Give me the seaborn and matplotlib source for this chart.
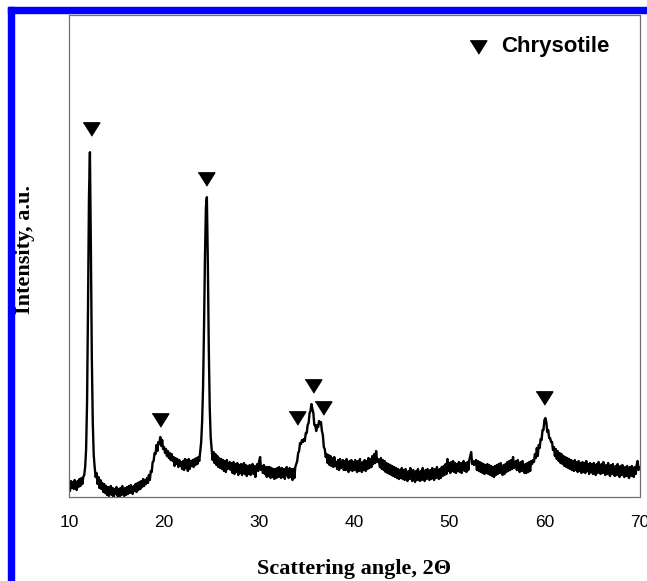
import numpy as np
import matplotlib
matplotlib.use("Agg")
import matplotlib.pyplot as plt
from matplotlib.patches import Rectangle
from matplotlib.ticker import MultipleLocator
import seaborn as sns

# ---- data ----
angle_start = 10.0      # 2-theta of first sample
angle_step = 0.1        # 2-theta step between samples
intensity = [
    14, 6, 16, 9, 15, 8, 17, 11, 7, 16,             # 10
    10, 18, 11, 19, 13, 20, 22, 30, 48, 95,         # 11
    190, 300, 345, 250, 140, 75, 42, 30, 20, 24,    # 12
    13, 20, 9, 17, 8, 14, 5, 13, 4, 11,             # 13
    2, 10, 1, 8, 11, 2, 9, 0, 8, 3,                 # 14
    10, 1, 8, 0, 9, 2, 11, 3, 1, 9,                 # 15
    2, 10, 3, 11, 4, 12, 5, 3, 11, 6,               # 16
    13, 5, 14, 7, 15, 8, 16, 10, 18, 11,            # 17
    17, 13, 19, 14, 22, 17, 26, 25, 35, 36,         # 18
    44, 43, 52, 46, 55, 53, 60, 51, 57, 48,         # 19
    50, 44, 48, 41, 46, 39, 44, 37, 43, 36,         # 20
    40, 31, 39, 33, 38, 30, 37, 31, 35, 28,         # 21
    36, 27, 38, 29, 37, 26, 38, 28, 36, 31,         # 22
    37, 30, 38, 32, 39, 33, 40, 36, 46, 55,         # 23
    75, 110, 170, 240, 290, 300, 235, 150, 90, 60,  # 24
    48, 37, 45, 34, 43, 32, 41, 30, 39, 29,         # 25
    38, 28, 37, 26, 36, 25, 37, 28, 31, 35,         # 26
    27, 34, 24, 35, 23, 33, 25, 34, 22, 32,         # 27
    24, 33, 22, 31, 34, 23, 32, 21, 31, 23,         # 28
    32, 22, 30, 33, 23, 31, 20, 30, 33, 26,         # 29
    36, 40, 27, 31, 24, 32, 23, 30, 20, 30,         # 30
    21, 30, 19, 29, 20, 28, 18, 28, 19, 29,         # 31
    20, 30, 21, 19, 29, 20, 28, 18, 27, 30,         # 32
    21, 19, 29, 20, 28, 17, 28, 19, 30, 33,         # 33
    36, 44, 46, 54, 53, 57, 55, 58, 56, 64,         # 34
    64, 72, 74, 84, 86, 93, 88, 84, 72, 72,         # 35
    66, 72, 70, 76, 73, 75, 66, 62, 50, 48,         # 36
    40, 43, 34, 42, 32, 41, 31, 39, 30, 40,         # 37
    31, 35, 28, 37, 27, 38, 29, 33, 37, 27,         # 38
    36, 27, 38, 28, 25, 36, 27, 37, 26, 35,         # 39
    27, 37, 28, 25, 36, 26, 38, 28, 25, 35,         # 40
    27, 37, 26, 36, 28, 39, 29, 38, 30, 41,         # 41
    33, 43, 34, 46, 35, 38, 36, 30, 39, 28,         # 42
    37, 27, 36, 25, 34, 24, 33, 23, 32, 22,         # 43
    31, 21, 30, 20, 29, 19, 28, 18, 27, 19,         # 44
    29, 18, 27, 17, 28, 19, 16, 26, 18, 29,         # 45
    19, 16, 27, 18, 15, 26, 17, 28, 18, 16,         # 46
    26, 17, 29, 19, 16, 27, 18, 28, 19, 17,         # 47
    27, 18, 29, 20, 17, 28, 19, 30, 21, 18,         # 48
    28, 19, 30, 21, 31, 22, 33, 23, 38, 26,         # 49
    34, 24, 35, 26, 36, 25, 34, 24, 33, 26,         # 50
    35, 25, 34, 24, 33, 36, 26, 34, 25, 35,         # 51
    27, 37, 41, 45, 33, 36, 32, 34, 37, 27,         # 52
    36, 26, 35, 25, 34, 24, 33, 23, 32, 24,         # 53
    33, 23, 32, 22, 31, 21, 30, 20, 31, 22,         # 54
    32, 23, 33, 24, 34, 25, 22, 32, 23, 33,         # 55
    25, 35, 26, 36, 27, 37, 28, 40, 29, 32,         # 56
    36, 27, 37, 28, 25, 35, 26, 36, 27, 24,         # 57
    33, 24, 34, 25, 35, 26, 36, 33, 37, 35,         # 58
    43, 39, 49, 41, 52, 49, 58, 57, 67, 67,         # 59
    77, 79, 75, 65, 67, 59, 59, 55, 55, 47,         # 60
    50, 41, 48, 38, 46, 36, 44, 34, 43, 33,         # 61
    41, 31, 40, 30, 39, 29, 38, 28, 37, 27,         # 62
    36, 26, 37, 27, 35, 25, 36, 26, 34, 24,         # 63
    35, 25, 34, 24, 36, 26, 33, 23, 34, 25,         # 64
    33, 23, 34, 25, 22, 33, 24, 35, 25, 23,         # 65
    33, 24, 35, 25, 22, 32, 23, 34, 24, 21,         # 66
    32, 23, 33, 24, 21, 31, 22, 33, 23, 20,         # 67
    31, 22, 32, 23, 20, 30, 21, 31, 22, 19,         # 68
    30, 21, 31, 22, 20, 30, 23, 32, 36, 27,         # 69
    30,                                             # 70
]

# chrysotile peak markers (2-theta, intensity level of the marker)
marker_angles = [12.3, 19.6, 24.4, 34.0, 35.7, 36.7, 60.0]
marker_levels = [368, 77, 318, 79, 111, 89, 99]

x_ticks = [10, 20, 30, 40, 50, 60, 70]
legend_label = "Chrysotile"
x_label = "Scattering angle, 2\u0398"
y_label = "Intensity, a.u."

angles = np.round(angle_start + angle_step * np.arange(len(intensity)), 2)

# ---- figure ----
sns.set_style("white")
W, H = 647, 581
fig = plt.figure(figsize=(W / 100, H / 100), dpi=100)
ax = fig.add_axes([69 / W, (H - 497) / H, (639.5 - 69) / W, (497 - 15.3) / H])

sns.lineplot(x=angles, y=intensity, ax=ax, color="black", linewidth=1.7,
             estimator=None, sort=False)

tri = [(-1, 0.8), (1, 0.8), (0, -0.8)]
ax.plot(marker_angles, marker_levels, linestyle="none", marker=tri,
        markersize=12, color="black")

# legend entry
ax.plot([0.717], [0.935], transform=ax.transAxes, linestyle="none",
        marker=tri, markersize=12, color="black", clip_on=False)
ax.text(0.757, 0.935, legend_label, transform=ax.transAxes,
        fontsize=16, fontweight="bold", family="Liberation Sans",
        color="black", va="center", ha="left")

ax.set_xlim(10, 70)
ax.set_ylim(0, 482)
ax.set_xticks(x_ticks)
ax.xaxis.set_minor_locator(MultipleLocator(2))
ax.set_yticks([])
ax.tick_params(axis="x", which="major", direction="in", length=6.5,
               width=0.8, color="#707070", pad=13, labelsize=12.5,
               labelcolor="black")
ax.tick_params(axis="x", which="minor", direction="in", length=3.6,
               width=0.8, color="#707070")
for lab in ax.get_xticklabels():
    lab.set_family("Liberation Sans")
for s in ax.spines.values():
    s.set_color("#707070")
    s.set_linewidth(0.9)

ax.set_xlabel("")
ax.set_ylabel("")
fig.text(354 / W, 1 - 569 / H, x_label, ha="center", va="center",
         fontsize=16, fontweight="bold", family="Liberation Serif",
         color="black")
fig.text(25 / W, 1 - 249 / H, y_label, ha="center", va="center",
         rotation=90, fontsize=16, fontweight="bold",
         family="Liberation Serif", color="black")

# blue frame
fig.patches.append(Rectangle((8 / W, 0), 6 / W, (H - 7) / H,
                             transform=fig.transFigure, color="#0000ff",
                             zorder=10))
fig.patches.append(Rectangle((8 / W, (H - 12.5) / H), (W - 8) / W, 5.5 / H,
                             transform=fig.transFigure, color="#0000ff",
                             zorder=10))

fig.savefig("out.png", dpi=100)
